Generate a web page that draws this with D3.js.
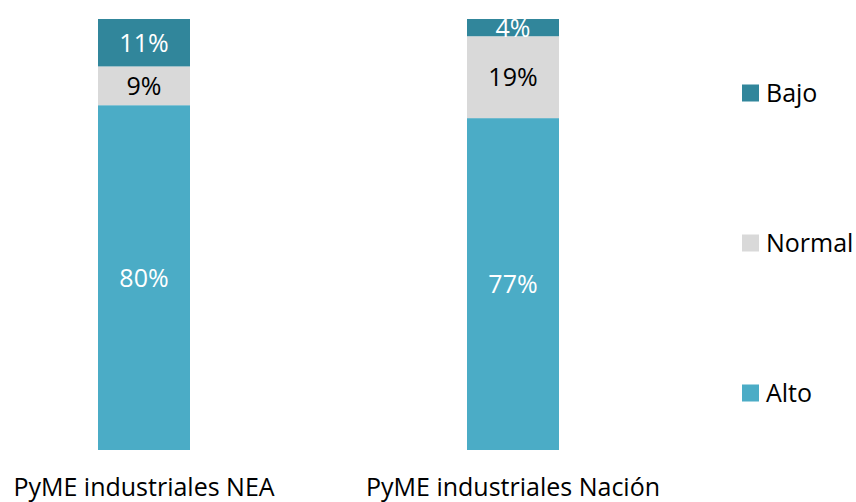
<!DOCTYPE html>
<html>
<head>
<meta charset="utf-8">
<script src="https://cdn.jsdelivr.net/npm/d3@7"></script>
<style>
  body { margin: 0; background: #fff; }
  svg text { font-family: "Open Sans", "Liberation Sans", sans-serif; }
</style>
</head>
<body>
<svg id="chart"></svg>
<script>
// Data
const categories = ["PyME industriales NEA", "PyME industriales Nación"];
const seriesNames = ["Alto", "Normal", "Bajo"];
const alto = [80, 77];
const normal = [9, 19];
const bajo = [11, 4];

const width = 856;
const height = 502;

const colors = { "Alto": "#4bacc6", "Normal": "#d9d9d9", "Bajo": "#31869b" };
const textColors = { "Alto": "#ffffff", "Normal": "#000000", "Bajo": "#ffffff" };

const svg = d3.select("#chart")
    .attr("width", width)
    .attr("height", height);

// Build rows for the stack
const rows = categories.map((c, i) => ({ cat: c, Alto: alto[i], Normal: normal[i], Bajo: bajo[i] }));
const stacked = d3.stack().keys(seriesNames)(rows);

// Scales
const xScale = d3.scaleBand()
    .domain(categories)
    .range([-86.5, 743.5])
    .paddingInner(0.7507)
    .paddingOuter(0.5);

const yScale = d3.scaleLinear()
    .domain([0, 100])
    .range([450, 19]);

// Bars
const layer = svg.selectAll(".layer")
    .data(stacked)
    .enter()
    .append("g")
    .attr("class", "layer")
    .attr("fill", d => colors[d.key]);

layer.selectAll("rect")
    .data(d => d)
    .enter()
    .append("rect")
    .attr("x", d => xScale(d.data.cat))
    .attr("y", d => yScale(d[1]))
    .attr("width", xScale.bandwidth())
    .attr("height", d => yScale(d[0]) - yScale(d[1]));

// Value labels
stacked.forEach(s => {
    svg.append("g")
        .selectAll("text")
        .data(s)
        .enter()
        .append("text")
        .attr("x", d => xScale(d.data.cat) + xScale.bandwidth() / 2)
        .attr("y", d => (yScale(d[0]) + yScale(d[1])) / 2)
        .attr("dy", "0.36em")
        .attr("text-anchor", "middle")
        .style("font-size", "25px")
        .attr("fill", textColors[s.key])
        .text(d => (d[1] - d[0]) + "%");
});

// Category axis (labels only)
const xAxis = d3.axisBottom(xScale).tickSize(0).tickPadding(0);
const gx = svg.append("g")
    .attr("transform", "translate(0, 478)")
    .call(xAxis);
gx.select(".domain").remove();
gx.selectAll("text")
    .style("font-size", "25px")
    .style("font-family", "Open Sans")
    .attr("fill", "#000");

// Legend
const legendItems = ["Bajo", "Normal", "Alto"];
const legendY = d3.scalePoint().domain(legendItems).range([93, 393]);
const legend = svg.append("g");
const li = legend.selectAll("g")
    .data(legendItems)
    .enter()
    .append("g")
    .attr("transform", d => `translate(742, ${legendY(d)})`);
li.append("rect")
    .attr("x", 0)
    .attr("y", -8.5)
    .attr("width", 17)
    .attr("height", 17)
    .attr("fill", d => colors[d]);
li.append("text")
    .attr("x", 24)
    .attr("y", 0)
    .attr("dy", "0.36em")
    .style("font-size", "25px")
    .attr("fill", "#000")
    .text(d => d);
</script>
</body>
</html>
